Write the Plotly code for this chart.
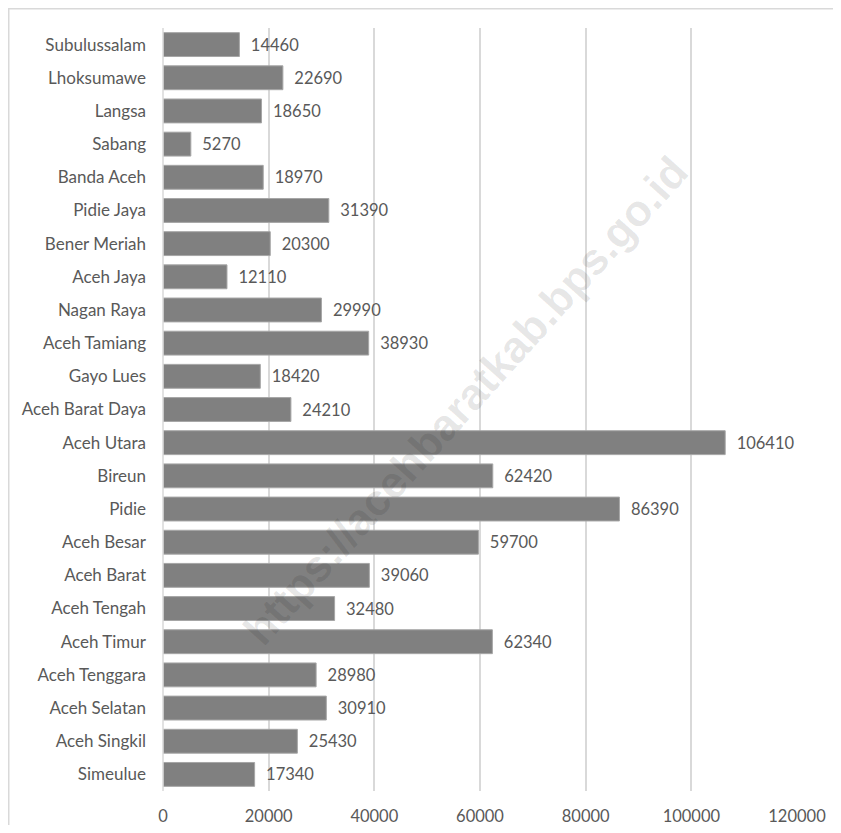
import plotly.graph_objects as go

regions = [
    "Simeulue", "Aceh Singkil", "Aceh Selatan", "Aceh Tenggara", "Aceh Timur",
    "Aceh Tengah", "Aceh Barat", "Aceh Besar", "Pidie", "Bireun", "Aceh Utara",
    "Aceh Barat Daya", "Gayo Lues", "Aceh Tamiang", "Nagan Raya", "Aceh Jaya",
    "Bener Meriah", "Pidie Jaya", "Banda Aceh", "Sabang", "Langsa",
    "Lhoksumawe", "Subulussalam",
]
values = [
    17340, 25430, 30910, 28980, 62340, 32480, 39060, 59700, 86390, 62420, 106410,
    24210, 18420, 38930, 29990, 12110, 20300, 31390, 18970, 5270, 18650,
    22690, 14460,
]
x_ticks = [0, 20000, 40000, 60000, 80000, 100000, 120000]
watermark = "https://acehbaratkab.bps.go.id"

font_family = "Lato, 'Open Sans', sans-serif"
text_grey = "#595959"

# page body adds an 8px margin, so the figure is sized to fit inside it
W, H = 825, 817
L, R, T, B = 155, 36, 20, 34
pw, ph = W - L - R, H - T - B

fig = go.Figure()
fig.add_trace(go.Bar(
    x=values, y=regions, orientation="h",
    marker=dict(color="#808080", line=dict(color="#a6a6a6", width=1)),
    text=[str(v) for v in values], texttemplate="  %{text}", textposition="outside",
    textfont=dict(size=16.5, color=text_grey, family=font_family),
    cliponaxis=False, width=0.72,
))

fig.update_layout(
    width=W, height=H,
    margin=dict(l=L, r=R, t=T, b=B),
    paper_bgcolor="white", plot_bgcolor="white",
    showlegend=False,
    font=dict(family=font_family, size=16.5, color=text_grey),
    xaxis=dict(
        range=[0, 120000], tickvals=x_ticks, ticktext=[str(v) for v in x_ticks],
        showgrid=True, gridcolor="#d9d9d9", gridwidth=1.5,
        zeroline=False, showline=False, ticklabelstandoff=13, automargin=False,
    ),
    yaxis=dict(
        categoryorder="array", categoryarray=regions,
        showgrid=False, zeroline=False, showline=False, automargin=False,
        ticklabelstandoff=16, range=[-0.5, len(regions) - 0.5],
        tickfont=dict(size=17),
    ),
    shapes=[
        dict(type="line", xref="paper", yref="paper", x0=0, x1=0, y0=0, y1=1,
             line=dict(color="#d9d9d9", width=1.5)),
        dict(type="line", xref="paper", yref="paper", x0=-L / pw, x1=1.2,
             y0=1 + (T - 0.5) / ph, y1=1 + (T - 0.5) / ph,
             line=dict(color="#d9d9d9", width=2)),
        dict(type="line", xref="paper", yref="paper", x0=(-L + 0.5) / pw, x1=(-L + 0.5) / pw,
             y0=-0.2, y1=1 + T / ph, line=dict(color="#d9d9d9", width=2)),
    ],
    annotations=[
        dict(text=f"<b>{watermark}</b>", xref="paper", yref="paper",
             x=(457 - L) / pw, y=(H - B - 392) / ph, showarrow=False, textangle=-48,
             font=dict(size=44, color="rgba(0,0,0,0.1)",
                       family="'Liberation Sans', Arial, sans-serif")),
    ],
)

fig.write_html("out.html")
